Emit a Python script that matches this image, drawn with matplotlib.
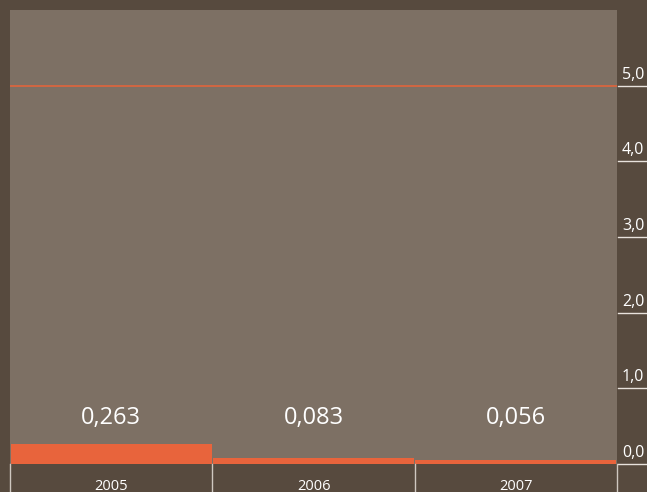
import matplotlib
matplotlib.use("Agg")
import matplotlib.pyplot as plt
from matplotlib.transforms import blended_transform_factory, offset_copy

years = ["2005", "2006", "2007"]
values = [0.263, 0.083, 0.056]
value_labels = ["0,263", "0,083", "0,056"]
target = 5.0
yticks = [0, 1, 2, 3, 4, 5]
ytick_labels = ["0,0", "1,0", "2,0", "3,0", "4,0", "5,0"]

W, H = 647, 492
fig = plt.figure(figsize=(W / 100, H / 100), dpi=100)
bg = "#574a3e"
fig.patch.set_facecolor(bg)
plt.rcParams["font.family"] = ["Open Sans", "DejaVu Sans"]

ax = fig.add_axes([10 / W, 28 / H, 607 / W, 454 / H])
ax.set_facecolor("#7d7064")
for s in ax.spines.values():
    s.set_visible(False)
ax.set_xlim(-0.5, 2.5)
ax.set_ylim(0, 6)
ax.set_xticks([])
ax.set_yticks([])

bar_color = "#e8643c"
x = list(range(len(years)))
ax.bar(x, values, width=0.995, color=bar_color, align="center", zorder=2)
ax.axhline(target, color="#e0643c", lw=1.2, zorder=3)

for xi, lab in zip(x, value_labels):
    ax.text(xi, 0.61, lab, ha="center", va="center", color="white", fontsize=17)

# right-side tick lines and labels
tr = blended_transform_factory(ax.transAxes, ax.transData)
x0 = 1.0 + 1 / 607
x1 = 1.0 + 30 / 607
line_col = "#e8e2dc"
for v, lab in zip(yticks, ytick_labels):
    ax.plot([x0, x1], [v, v], transform=tr, color=line_col, lw=1.0, clip_on=False)
    ax.text(1.0 + 5 / 607, v, lab, transform=offset_copy(tr, fig=fig, x=0, y=3, units="dots"),
            ha="left", va="bottom", color="white", fontsize=11.5)

# bottom category separators and labels
trx = blended_transform_factory(ax.transData, ax.transAxes)
sep_col = "#cfc8c0"
for b in [-0.5, 0.5, 1.5, 2.5]:
    ax.plot([b, b], [0, -30 / 454], transform=trx, color=sep_col, lw=1.0, clip_on=False)
for xi, yr in zip(x, years):
    ax.text(xi, -22 / 454, yr, transform=trx, ha="center", va="center", color="white", fontsize=10.5)

fig.savefig("out.png", dpi=100, facecolor=bg)
